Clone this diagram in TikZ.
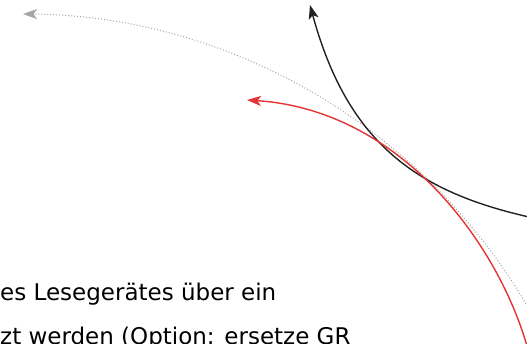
\documentclass[tikz,border=0pt]{standalone}
\usepackage{fontspec}
\setmainfont{DejaVu Sans}
\usetikzlibrary{arrows.meta}
\definecolor{myred}{RGB}{228,52,52}
\definecolor{mydark}{RGB}{34,34,34}
\definecolor{mygray}{RGB}{165,165,165}
\tikzset{
  tip/.style={-{Stealth[length=14pt,width=10pt,inset=3.5pt]}},
  curvebase/.style={line width=1.4pt},
  darkcurve/.style={curvebase, draw=mydark, tip},
  redcurve/.style={curvebase, draw=myred, tip},
  graycurve/.style={line width=1pt, draw=mygray, dotted, tip},
  txt/.style={anchor=base west, inner sep=0pt, text=black, font=\fontsize{23}{23}\selectfont}
}
\begin{document}
\begin{tikzpicture}[x=1pt,y=-1pt]
\useasboundingbox (0,0) rectangle (527,343);
\clip (0,0) rectangle (527,343);
% coordinates
\coordinate (gS) at (529,309);
\coordinate (bS) at (529,217);
\coordinate (bE) at (310,5);
\coordinate (rS) at (527,346);
\coordinate (rE) at (247,100);
% curves
\draw[graycurve] (gS) arc[start angle=-30.1, end angle=-89.4, radius=592];
\draw[darkcurve] (bS) .. controls (419,192) and (348,145) .. (bE);
\draw[redcurve] (rS) .. controls (497,242) and (400,110) .. (rE);
% text
\node[txt] (t1) at (0,300) {es Lesegerätes über ein};
\node[txt] (t2) at (0,344) {zt werden (Option: ersetze GR};
\end{tikzpicture}
\end{document}
